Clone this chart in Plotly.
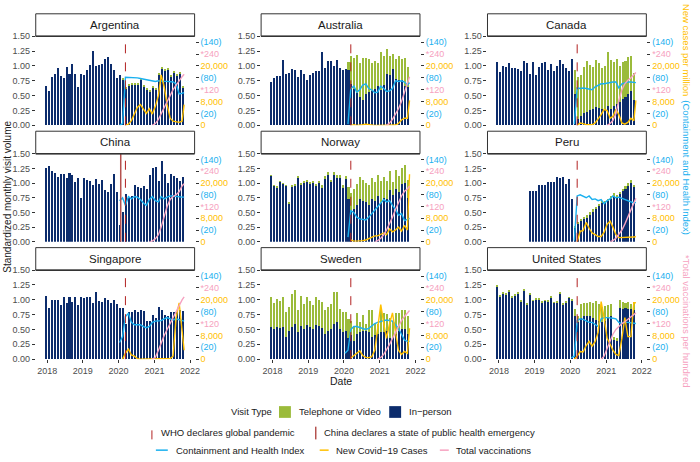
import plotly.graph_objects as go
import pandas as pd

# ---------------- data ----------------
countries = ["Argentina", "Australia", "Canada", "China", "Norway", "Peru",
             "Singapore", "Sweden", "United States"]

# 47 monthly observations (Jan 2018 - Nov 2021), evenly spaced by an average month
MONTH = pd.Timedelta(hours=730.5)
bar_months = pd.date_range("2017-12-17", periods=47, freq=MONTH)
line_dates = list(pd.date_range("2020-01-01", periods=22, freq="MS") + pd.Timedelta(days=10)) + [pd.Timestamp("2021-11-01")]

N = None
inperson = {
    "Argentina": [0.67, 0.58, 0.81, 0.87, 0.96, 0.83, 0.80, 0.99, 0.87, 1.04, 0.86, 0.65, 0.86, 0.85, 0.93, 1.01, 1.25, 1.00, 1.01, 1.04, 1.12, 1.15, 1.04, 0.94, 0.80, 0.84, 0.77,
                  0.62, 0.66, 0.68, 0.68, 0.68, 0.76, 0.65, 0.60, 0.56, 0.64, 0.60, 0.85, 0.95, 0.92, 0.94, 0.82, 0.88, 0.83, 0.86, 0.63],
    "Australia": [0.73, 0.79, 0.83, 0.83, 1.10, 0.86, 0.89, 0.95, 0.94, 0.81, 0.93, 0.87, 0.77, 0.85, 0.89, 0.91, 0.92, 1.23, 0.97, 1.09, 1.08, 1.00, 1.10, 0.97, 0.93, 0.95, 0.93,
                  0.70, 0.62, 0.55, 0.48, 0.43, 0.52, 0.56, 0.58, 0.62, 0.67, 0.60, 0.68, 0.87, 0.85, 0.95, 0.78, 0.77, 0.76, 0.66, 0.64],
    "Canada": [1.07, 0.90, 1.00, 0.98, 1.05, 0.97, 0.96, 0.95, 0.91, 1.08, 1.05, 0.87, 1.06, 0.85, 0.98, 1.05, 1.07, 0.94, 1.04, 0.91, 1.00, 1.10, 1.04, 0.96, 0.92, 1.11, 0.53,
               0.10, 0.15, 0.20, 0.23, 0.25, 0.28, 0.31, 0.30, 0.28, 0.27, 0.33, 0.27, 0.33, 0.36, 0.40, 0.44, 0.48, 0.52, 0.58, 0.42],
    "China": [1.26, 1.29, 1.20, 1.17, 1.10, 1.16, 1.15, 1.08, 1.17, 1.13, 1.02, 1.08, 0.74, 1.09, 1.06, 1.04, 0.97, 1.07, 0.99, 1.05, 0.89, 0.85, 0.98, 1.15, 0.84, 0.28, 0.50,
              0.81, 0.75, 0.78, 0.96, 0.94, 0.92, 0.95, 0.90, 1.13, 1.25, 1.27, 1.03, 1.38, 1.15, 1.00, 1.16, 1.12, 1.09, 1.04, 1.10],
    "Norway": [1.13, 0.96, 0.93, 1.03, 0.99, 0.96, 0.66, 0.95, 0.96, 1.10, 0.98, 1.02, 1.03, 1.00, 1.02, 0.96, 1.01, 0.93, 1.09, 1.15, 1.03, 1.13, 1.09, 1.08, 0.92, 1.07, 0.73,
               0.50, 0.55, 0.62, 0.72, 0.70, 0.68, 0.63, 0.72, 0.70, 0.78, 0.66, 0.75, 0.72, 0.88, 0.80, 0.90, 0.85, 0.98, 1.00, 0.74],
    "Peru": [N, N, N, N, N, N, N, N, N, N, N, 0.87, 0.87, 0.87, 0.96, 0.96, 0.97, 1.01, 1.01, 1.01, 1.10, 1.08, 1.10, 0.98, 1.07, 0.72, 0.25,
             0.31, 0.36, 0.40, 0.42, 0.47, 0.52, 0.57, 0.62, 0.67, 0.67, 0.70, 0.75, 0.80, 0.77, 0.82, 0.87, 0.92, 0.97, 1.02, 0.94],
    "Singapore": [1.06, 0.87, 0.99, 0.99, 1.00, 0.91, 1.05, 0.94, 1.05, 0.97, 1.05, 0.91, 1.05, 1.03, 1.04, 1.05, 0.94, 1.13, 0.98, 0.96, 1.03, 1.00, 0.94, 0.99, 0.93, 0.87, 0.87,
                  0.60, 0.79, 0.80, 0.82, 0.80, 0.83, 0.81, 0.65, 0.64, 0.74, 0.70, 0.88, 0.83, 0.75, 0.73, 0.80, 0.80, 0.79, 0.82, 0.81],
    "Sweden": [0.55, 0.50, 0.55, 0.52, 0.55, 0.38, 0.48, 0.55, 0.60, 0.45, 0.56, 0.50, 0.57, 0.54, 0.50, 0.58, 0.56, 0.52, 0.42, 0.47, 0.50, 0.60, 0.62, 0.50, 0.45, 0.47, 0.35,
               0.40, 0.30, 0.42, 0.45, 0.48, 0.47, 0.45, 0.38, 0.40, 0.42, 0.45, 0.45, 0.48, 0.35, 0.38, 0.42, 0.48, 0.50, 0.50, 0.42],
    "United States": [1.23, 1.06, 1.11, 1.09, 1.14, 1.04, 1.07, 1.11, 0.97, 1.16, 0.92, 1.09, 0.98, 1.01, 1.01, 0.96, 0.98, 0.97, 1.04, 0.95, 0.96, 1.11, 0.92, 0.96, 1.03, 0.99, 0.72,
                      0.62, 0.70, 0.72, 0.73, 0.72, 0.70, 0.66, 0.65, 0.62, 0.65, 0.70, 0.72, 0.33, 0.30, 0.86, 0.84, 0.86, 0.85, 0.84, 0.83],
}
telehealth = {
    "Argentina": [0] * 26 + [0.01] + [0.02] * 20,
    "Australia": [0] * 26 + [0.14,
                  0.46, 0.51, 0.64, 0.57, 0.70, 0.61, 0.56, 0.47, 0.47, 0.38, 0.64, 0.49, 0.41, 0.32, 0.25, 0.34, 0.40, 0.36, 0.47, 0.35],
    "Canada": [0] * 26 + [0.40,
               0.72, 0.70, 0.79, 0.86, 0.76, 0.70, 0.79, 0.75, 0.68, 0.73, 0.91, 0.83, 0.73, 0.76, 0.60, 0.63, 0.60, 0.63, 0.58, 0.47],
    "China": [0] * 47,
    "Norway": [0.01, 0.01, 0.01, 0.01, 0.01, 0.01, 0.01, 0.01, 0.02, 0.02, 0.02, 0.02, 0.02, 0.02, 0.02, 0.02, 0.03, 0.03, 0.03, 0.03, 0.03, 0.05, 0.05, 0.05, 0.05, 0.05, 0.20,
               0.33, 0.35, 0.36, 0.38, 0.35, 0.32, 0.34, 0.36, 0.32, 0.36, 0.37, 0.35, 0.31, 0.32, 0.22, 0.33, 0.27, 0.28, 0.31, 0.31],
    "Peru": [N] * 11 + [0] * 15 + [0.02,
             0.02, 0.02, 0.02, 0.03, 0.03, 0.03, 0.03, 0.03, 0.03, 0.03, 0.03, 0.03, 0.03, 0.03, 0.03, 0.03, 0.03, 0.03, 0.03, 0.03],
    "Singapore": [0] * 47,
    "Sweden": [0.50, 0.44, 0.47, 0.46, 0.49, 0.42, 0.40, 0.55, 0.56, 0.38, 0.51, 0.43, 0.47, 0.44, 0.41, 0.47, 0.44, 0.45, 0.41, 0.41, 0.43, 0.54, 0.52, 0.34, 0.34, 0.33, 0.33,
               0.25, 0.25, 0.36, 0.17, 0.27, 0.13, 0.38, 0.44, 0.20, 0.18, 0.38, 0.33, 0.28, 0.35, 0.24, 0.36, 0.29, 0.32, 0.33, 0.30],
    "United States": [0.01] * 26 + [0.13,
                      0.10, 0.23, 0.23, 0.21, 0.24, 0.25, 0.32, 0.28, 0.26, 0.25, 0.22, 0.21, 0.05, 0.06, 0.14, 0.13, 0.09, 0.12, 0.09, 0.13],
}

# Containment and Health Index (0-100)
chi = {
    "Argentina": [0, 3, 81, 81, 80, 80, 80, 79, 78, 77, 75, 75, 74, 75, 74, 74, 74, 74, 73, 70, 53, 54, 55],
    "Australia": [N, 2, 62, 66, 56, 60, 68, 70, 62, 60, 55, 56, 66, 62, 57, 58, 62, 75, 74, 75, 73, 68, 72],
    "Canada": [N, 2, 63, 62, 63, 62, 61, 60, 65, 68, 70, 70, 71, 73, 73, 73, 63, 70, 72, 73, 73, 72, 72],
    "China": [70, 75, 62, 77, 73, 77, 76, 72, 66, 62, 72, 77, 70, 68, 77, 73, 76, 78, 78, 77, 77, 76, 76],
    "Norway": [N, 8, 53, 50, 42, 39, 38, 37, 42, 48, 55, 60, 66, 72, 68, 70, 62, 55, 45, 48, 36, 38, 40],
    "Peru": [N, 2, 78, 80, 78, 75, 78, 72, 73, 70, 72, 65, 70, 73, 78, 75, 76, 74, 72, 70, 68, 66, 67],
    "Singapore": [28, 38, 72, 77, 62, 58, 58, 58, 55, 53, 55, 62, 64, 64, 65, 68, 70, 68, 66, 68, 66, 65, 64],
    "Sweden": [10, 15, 50, 55, 55, 53, 52, 50, 52, 56, 60, 62, 64, 65, 66, 65, 64, 58, 52, 42, 32, 30, 30],
    "United States": [2, 5, 65, 68, 67, 65, 62, 62, 58, 55, 68, 70, 70, 70, 69, 68, 62, 60, 62, 62, 61, 60, 60],
}
# New Covid-19 cases per million
cases = {
    "Argentina": [N, N, 0, 400, 1600, 4000, 6000, 7000, 5600, 4000, 5600, 3800, 6400, 10000, 17000, 13000, 7000, 2400, 1400, 1200, 1000, 1400, 7000],
    "Australia": [N, N, 0, 200, 0, 0, 200, 400, 200, 0, 0, 0, 0, 0, 0, 0, 0, 100, 600, 1800, 2400, 2400, 8400],
    "Canada": [N, N, 0, 800, 600, 200, 200, 200, 800, 2000, 3600, 5400, 5000, 2400, 3000, 5400, 3600, 800, 400, 1000, 2400, 1600, 8400],
    "China": [N] * 23,
    "Norway": [N, N, 600, 200, 200, 200, 400, 600, 1000, 1600, 2000, 2000, 2400, 3000, 2400, 4400, 3400, 4000, 5000, 3600, 5600, 4000, 23000],
    "Peru": [N, N, 0, 3600, 3800, 6600, 4600, 3000, 2400, 1800, 1800, 3200, 6000, 7000, 5000, 2400, 1400, 1400, 1400, 1400, 1400, 1600, 1800],
    "Singapore": [N, 0, 2000, 3400, 1400, 1000, 200, 0, 0, 0, 0, 0, 0, 0, 0, 0, 0, 200, 1000, 14000, 19000, 9000, 3000],
    "Sweden": [N, N, 400, 1200, 2000, 2800, 1200, 600, 500, 800, 3000, 11000, 18400, 12000, 7000, 12000, 15600, 9000, 3000, 1600, 2600, 2000, 10400],
    "United States": [N, 0, 1000, 2600, 2400, 4600, 6000, 4400, 6000, 9000, 19400, 14000, 7000, 5000, 3000, 1600, 1200, 7000, 14000, 7600, 7600, 19000, 19000],
}
# Total vaccinations per hundred
vacc = {
    "Argentina": [N] * 11 + [0, 6, 20, 40, 60, 80, 100, 120, 136, 150, 164, 172],
    "Australia": [N] * 14 + [0, 8, 20, 36, 56, 80, 110, 140, 164],
    "Canada": [N] * 12 + [0, 6, 16, 40, 84, 120, 140, 152, 160, 170, 178],
    "China": [N] * 10 + [0, 2, 10, 24, 50, 84, 120, 144, 154, 160, 170, 190, 198],
    "Norway": [N] * 10 + [0, 4, 12, 24, 40, 60, 84, 110, 136, 156, 172, 180, 190],
    "Peru": [N] * 13 + [0, 4, 12, 24, 40, 60, 84, 110, 130, 148],
    "Singapore": [N] * 11 + [0, 6, 30, 56, 80, 100, 120, 144, 164, 184, 200, 210],
    "Sweden": [N] * 11 + [0, 6, 16, 30, 50, 70, 90, 110, 130, 144, 156, 164],
    "United States": [N] * 10 + [0, 10, 36, 60, 84, 100, 110, 120, 126, 134, 140, 150, 156],
}

who_date = "2020-03-11"
china_date = "2020-01-23"
year_ticks = ["2018", "2019", "2020", "2021", "2022"]

# secondary-axis scale factors (as in the original dual labelling)
CHI_DIV, CASES_DIV, VACC_DIV = 100, 20000, 200

# ---------------- style ----------------
NAVY = "#0C2C6C"
GREEN = "#9BBB3B"
C_CHI = "#1AB0EF"
C_CASES = "#FFC000"
C_VACC = "#F6A2C0"
RED = "#B22222"
CHINA_RED = "#B5524F"
GREY = "#4D4D4D"
FONT = "Liberation Sans, Arial, sans-serif"

W, H = 700, 462
col_x = [(36, 196), (263, 423), (491, 651)]
row_y = [(9, 32, 123), (129, 152, 242), (248, 271, 362)]
PANEL_W = 160
PX_PER_MONTH = 3  # one month of the x axis spans 3 screen pixels


def px(x):
    return x / W


def py(y):
    return 1 - y / H


def scaled(vals, div):
    return [None if v is None else v / div for v in vals]


# x-range: one month = 3 px, first bar centred 10 px inside the panel
day_per_px = MONTH / PX_PER_MONTH
x_start = bar_months[0] - 10 * day_per_px
x_end = x_start + PANEL_W * day_per_px
xrange = [x_start.isoformat(), x_end.isoformat()]
bar_w = 2.04 * day_per_px.total_seconds() * 1000  # ~2 px bars, ~1 px white gaps

fig = go.Figure()
layout = dict(width=W, height=H, margin=dict(l=0, r=0, t=0, b=0),
              paper_bgcolor="white", plot_bgcolor="white",
              showlegend=False, barmode="stack", bargap=0.2,
              font=dict(family=FONT, color=GREY))
shapes, annotations = [], []

sec_vals = [0, 0.2, 0.4, 0.6, 0.8, 1.0, 1.2, 1.4]
sec_text = [f"<span style='color:{C_CASES}'>0</span>",
            f"<span style='color:{C_CHI}'>(20)</span>",
            f"<span style='color:{C_CASES}'>8,000</span>",
            f"<span style='color:{C_VACC}'>*120</span>",
            f"<span style='color:{C_CHI}'>(80)</span>",
            f"<span style='color:{C_CASES}'>20,000</span>",
            f"<span style='color:{C_VACC}'>*240</span>",
            f"<span style='color:{C_CHI}'>(140)</span>"]

for i, c in enumerate(countries):
    r, col = divmod(i, 3)
    n = i + 1
    xs = "" if n == 1 else str(n)
    ys2 = str(n + 9)
    x0, x1 = col_x[col]
    st, pt, pb = row_y[r]

    fig.add_trace(go.Bar(x=bar_months, y=inperson[c], width=bar_w, marker=dict(color=NAVY, line=dict(width=0)),
                         xaxis="x" + xs, yaxis="y" + xs, hoverinfo="skip"))
    fig.add_trace(go.Bar(x=bar_months, y=telehealth[c], width=bar_w, marker=dict(color=GREEN, line=dict(width=0)),
                         xaxis="x" + xs, yaxis="y" + xs, hoverinfo="skip"))
    fig.add_trace(go.Scatter(x=line_dates, y=scaled(chi[c], CHI_DIV), mode="lines",
                             line=dict(color=C_CHI, width=1.4), xaxis="x" + xs, yaxis="y" + xs))
    fig.add_trace(go.Scatter(x=line_dates, y=scaled(cases[c], CASES_DIV), mode="lines",
                             line=dict(color=C_CASES, width=1.4), xaxis="x" + xs, yaxis="y" + xs))
    fig.add_trace(go.Scatter(x=line_dates, y=scaled(vacc[c], VACC_DIV), mode="lines",
                             line=dict(color=C_VACC, width=1.4), xaxis="x" + xs, yaxis="y" + xs))
    # invisible trace so the right-hand (secondary) axis is drawn
    fig.add_trace(go.Scatter(x=[xrange[0]], y=[0], mode="markers", marker=dict(opacity=0),
                             xaxis="x" + xs, yaxis="y" + ys2, hoverinfo="skip"))

    bottom = (r == 2)
    layout["xaxis" + xs] = dict(domain=[px(x0), px(x1)], anchor="y" + xs, type="date", range=xrange,
                                showgrid=False, zeroline=False, showline=False,
                                ticks="outside" if bottom else "", ticklen=3, tickcolor="#333",
                                showticklabels=bottom, tickvals=[y + "-01-01" for y in year_ticks],
                                ticktext=year_ticks, tickfont=dict(size=9, color=GREY))
    layout["yaxis" + xs] = dict(domain=[py(pb), py(pt)], anchor="x" + xs, range=[0, 1.5],
                                showgrid=False, zeroline=False, ticks="outside", ticklen=3, tickcolor="#333",
                                tickvals=[0, 0.25, 0.5, 0.75, 1.0, 1.25, 1.5],
                                ticktext=["0.00", "0.25", "0.50", "0.75", "1.00", "1.25", "1.50"],
                                tickfont=dict(size=9, color=GREY))
    layout["yaxis" + ys2] = dict(overlaying="y" + xs, anchor="x" + xs, side="right", range=[0, 1.5],
                                 showgrid=False, zeroline=False, ticks="outside", ticklen=3, tickcolor="#333",
                                 tickvals=sec_vals, ticktext=sec_text, tickfont=dict(size=9))

    # event lines
    shapes.append(dict(type="line", xref="x" + xs, yref="y" + xs + " domain", x0=who_date, x1=who_date,
                       y0=0, y1=1, line=dict(color=RED, width=1, dash="dash")))
    if c == "China":
        shapes.append(dict(type="line", xref="x" + xs, yref="y" + xs + " domain", x0=china_date, x1=china_date,
                           y0=0, y1=1, line=dict(color=CHINA_RED, width=1.5)))
    # strip
    shapes.append(dict(type="rect", xref="paper", yref="paper", x0=px(x0), x1=px(x1), y0=py(pt), y1=py(st),
                       line=dict(color="#333", width=1), fillcolor="white"))
    shapes.append(dict(type="line", xref="paper", yref="paper", x0=px(x0), x1=px(x1), y0=py(pt), y1=py(pt),
                       line=dict(color="#333", width=1.5)))
    annotations.append(dict(text=c, xref="paper", yref="paper", x=px((x0 + x1) / 2), y=py((st + pt) / 2),
                            showarrow=False, font=dict(size=11.5, color="#1A1A1A"), xanchor="center", yanchor="middle"))

# axis titles
annotations.append(dict(text="Standardized monthly visit volume", xref="paper", yref="paper",
                        x=px(8), y=py(196), textangle=-90, showarrow=False,
                        font=dict(size=10, color="#1A1A1A"), xanchor="center", yanchor="middle"))
annotations.append(dict(text="Date", xref="paper", yref="paper", x=px(343), y=py(384), showarrow=False,
                        font=dict(size=10.5, color="#1A1A1A"), xanchor="center", yanchor="middle"))
for txt, colr, yc in [("New cases per million", C_CASES, 46),
                      ("(Containment and Health Index)", C_CHI, 166),
                      ("*Total vaccinations per hundred", C_VACC, 323)]:
    annotations.append(dict(text=txt, xref="paper", yref="paper", x=px(692), y=py(yc), textangle=90,
                            showarrow=False, font=dict(size=9.5, color=colr), xanchor="center", yanchor="middle"))

# legend
def leg_text(t, x, y):
    annotations.append(dict(text=t, xref="paper", yref="paper", x=px(x), y=py(y), showarrow=False,
                            xanchor="left", yanchor="middle", font=dict(size=9.5, color="#1A1A1A")))

leg_text("Visit Type", 231, 416)
shapes.append(dict(type="rect", xref="paper", yref="paper", x0=px(281), x1=px(293), y0=py(422), y1=py(410),
                   fillcolor=GREEN, line=dict(width=0)))
leg_text("Telephone or Video", 299, 416)
shapes.append(dict(type="rect", xref="paper", yref="paper", x0=px(392), x1=px(404), y0=py(422), y1=py(410),
                   fillcolor=NAVY, line=dict(width=0)))
leg_text("In\u2212person", 410, 416)

shapes.append(dict(type="line", xref="paper", yref="paper", x0=px(153), x1=px(153), y0=py(444), y1=py(431),
                   line=dict(color=RED, width=1, dash="dash")))
leg_text("WHO declares global pandemic", 160, 437)
shapes.append(dict(type="line", xref="paper", yref="paper", x0=px(318), x1=px(318), y0=py(444), y1=py(431),
                   line=dict(color=CHINA_RED, width=1.5)))
leg_text("China declares a state of public health emergency", 324, 437)

for (xa, xb, colr, t, xt) in [(157, 169, C_CHI, "Containment and Health Index", 175),
                              (322, 331, C_CASES, "New Covid\u221219 Cases", 336),
                              (443, 452, C_VACC, "Total vaccinations", 457)]:
    shapes.append(dict(type="line", xref="paper", yref="paper", x0=px(xa), x1=px(xb), y0=py(455), y1=py(455),
                       line=dict(color=colr, width=1.5)))
    leg_text(t, xt, 455)

layout["shapes"] = shapes
layout["annotations"] = annotations
fig.update_layout(**layout)
# the page's default 8px body margin would push the 700x462 figure out of the window
fig.write_html("out.html", config={"displayModeBar": False},
               post_script="document.body.style.margin='0px';")
